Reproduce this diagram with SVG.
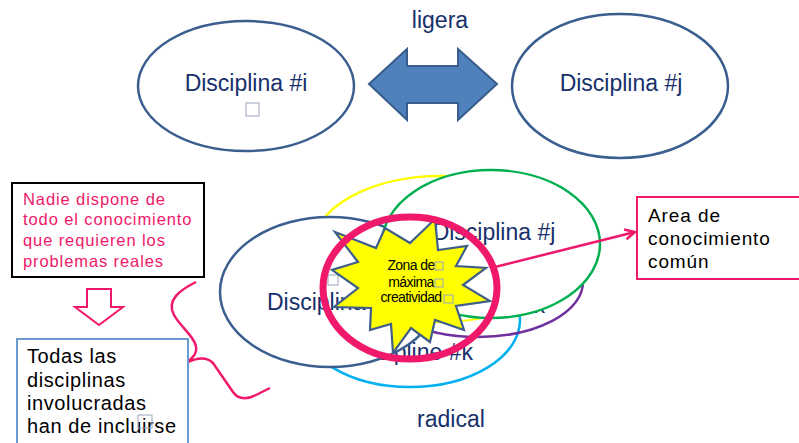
<svg xmlns="http://www.w3.org/2000/svg" width="799" height="443" viewBox="0 0 799 443">
<style>
.t{font-family:"Liberation Sans",Arial,sans-serif}
.disc{font-size:23px;fill:#17306B}
.ell{fill:#fff;stroke-width:2.5}
.open{fill:none;stroke-width:2.5}
.sq{fill:none;stroke:#9AA4BE;stroke-width:1}
.pink{stroke:#F0186A;fill:none}
</style>
<defs>
<marker id="ah" viewBox="0 0 12 12" refX="11" refY="6" markerWidth="12" markerHeight="12" markerUnits="userSpaceOnUse" orient="auto">
<path d="M1,1 L11,6 L1,11" fill="none" stroke="#F0186A" stroke-width="2.5"/>
</marker>
</defs>
<rect width="799" height="443" fill="#fff"/>

<g id="top-disc-i">
<ellipse cx="246" cy="86" rx="108" ry="65" class="ell" stroke="#3A5F8F"/>
<text x="246" y="91" text-anchor="middle" class="t disc">Disciplina #i</text>
<rect x="246" y="103" width="13" height="13" class="sq"/>
</g>
<g id="top-disc-j">
<ellipse cx="620" cy="86" rx="108" ry="72" class="ell" stroke="#3A5F8F"/>
<text x="621" y="91" text-anchor="middle" class="t disc">Disciplina #j</text>
</g>
<g id="double-arrow">
<polygon points="369,84 407,49 407,66 458,66 458,49 497,84 458,120 458,103 407,103 407,120" fill="#4F81BD" stroke="#385D8A" stroke-width="2"/>
</g>
<text x="440" y="28" text-anchor="middle" class="t disc">ligera</text>

<g id="disc-k-cyan">
<ellipse cx="410" cy="320" rx="110" ry="67" class="open" stroke="#00B0F0"/>
<text x="473" y="360" text-anchor="end" class="t disc">Discipline #k</text>
</g>
<g id="disc-k-purple">
<ellipse cx="478" cy="282" rx="105" ry="55" class="open" stroke="#7030A0"/>
<text x="545" y="313" text-anchor="end" class="t disc">Disciplina #k</text>
</g>
<g id="disc-yellow">
<ellipse cx="440" cy="249" rx="128" ry="73" class="ell" stroke="#FFFF00"/>
</g>
<g id="disc-i-low">
<ellipse cx="330" cy="292" rx="110" ry="75" class="ell" stroke="#3A5F8F"/>
<text x="267" y="310" class="t disc">Disciplina #i</text>
<rect x="328" y="275" width="10" height="10" class="sq"/>
</g>
<g id="disc-j-green">
<ellipse cx="491" cy="244" rx="109" ry="74" class="ell" stroke="#00B050"/>
<text x="494" y="240" text-anchor="middle" class="t disc">Disciplina #j</text>
</g>

<g id="star">
<polygon points="335,232 376,248 385,228 410,243 435,219 438,250 467,246 456,266 486,268 463,285 490,301 456,306 464,330 435,320 430,342 411,328 393,353 391,324 370,330 371,308 334,307 358,288 332,270 358,262" fill="#FFFF00" stroke="#3F5F8A" stroke-width="2.2" stroke-linejoin="miter"/>
<g class="t" font-size="14" text-anchor="middle" fill="#000" letter-spacing="-0.6">
<text x="411" y="270">Zona de</text>
<text x="411" y="287">máxima</text>
<text x="411" y="302">creatividad</text>
</g>
<rect x="435" y="262" width="8" height="8" class="sq"/>
<rect x="435" y="279" width="8" height="8" class="sq"/>
<rect x="444" y="295" width="9" height="8" class="sq"/>
</g>
<g id="zone-circle">
<ellipse cx="410" cy="288" rx="87" ry="71" class="pink" stroke-width="7"/>
</g>

<g id="connectors">
<line x1="495" y1="267" x2="635" y2="232" class="pink" stroke-width="2.5" marker-end="url(#ah)"/>
<path d="M196,282 C180,290 166,300 174,315 C182,330 206,344 192,358 C187,363 181,367 175,372" class="pink" stroke-width="2.5"/>
<path d="M186,363 C196,358 206,356 213,363 L233,392 C238,399 246,400 256,395 L270,388" class="pink" stroke-width="2.5"/>
</g>

<g id="area-box">
<rect x="637" y="197" width="170" height="82" fill="#fff" stroke="#F0186A" stroke-width="2"/>
<g class="t" font-size="19" fill="#000" letter-spacing="0.9">
<text x="648" y="222">Area de</text>
<text x="648" y="245">conocimiento</text>
<text x="648" y="268">común</text>
</g>
</g>

<g id="nadie-box">
<rect x="12" y="183" width="192" height="94" fill="#fff" stroke="#000" stroke-width="2"/>
<g class="t" font-size="16.5" fill="#F0186A" letter-spacing="0.9">
<text x="23" y="205">Nadie dispone de</text>
<text x="23" y="225">todo el conocimiento</text>
<text x="23" y="246">que requieren los</text>
<text x="23" y="267">problemas reales</text>
</g>
</g>

<g id="down-arrow">
<polygon points="87,289 111,289 111,307 123,307 99,325 75,307 87,307" fill="#fff" stroke="#F0186A" stroke-width="2"/>
</g>

<g id="todas-box">
<rect x="17" y="339" width="171" height="110" fill="#fff" stroke="#6C9BD2" stroke-width="2"/>
<g class="t" font-size="20" fill="#000" letter-spacing="0.6">
<text x="27" y="363">Todas las</text>
<text x="27" y="387">disciplinas</text>
<text x="27" y="410">involucradas</text>
<text x="27" y="433">han de incluirse</text>
</g>
<rect x="138" y="415" width="14" height="13" class="sq"/>
</g>

<text x="451" y="427" text-anchor="middle" class="t disc">radical</text>
</svg>
